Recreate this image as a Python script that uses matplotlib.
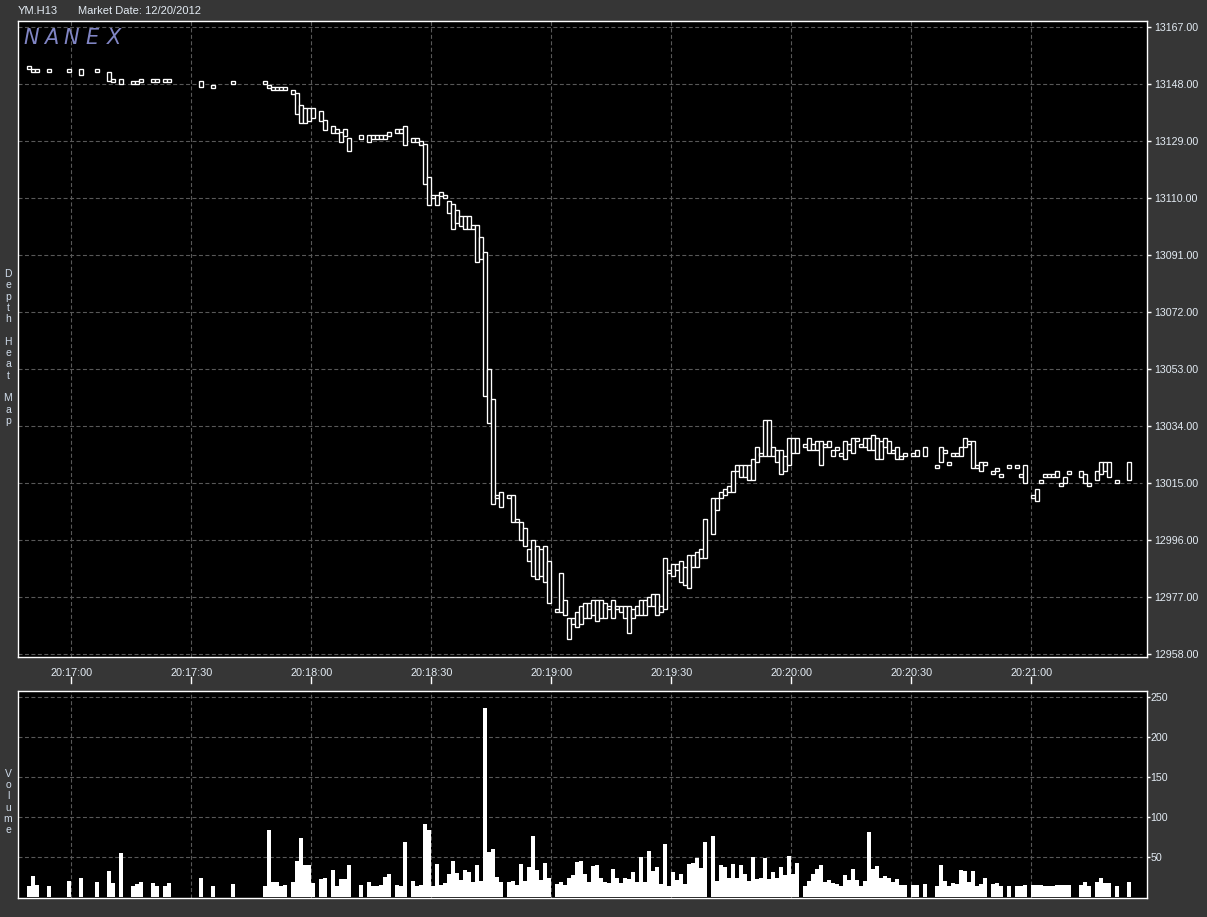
import matplotlib
matplotlib.use("Agg")
import matplotlib.pyplot as plt
from matplotlib.lines import Line2D
from matplotlib.transforms import blended_transform_factory

# ---------------- data (seconds after 20:17:00) ----------------
seconds = [-11, -10, -9, -6, -1, 2, 6, 9, 10, 12, 15, 16, 17, 20, 21, 23, 24, 32, 35, 40,
           48, 49, 50, 51, 52, 53, 55, 56, 57, 58, 59, 60, 62, 63, 65, 66, 67, 68, 69, 72,
           74, 75, 76, 77, 78, 79, 81, 82, 83, 85, 86, 87, 88, 89, 90, 91, 92, 93, 94, 95,
           96, 97, 98, 99, 100, 101, 102, 103, 104, 105, 106, 107, 109, 110, 111, 112, 113, 114, 115, 116,
           117, 118, 119, 121, 122, 123, 124, 125, 126, 127, 128, 129, 130, 131, 132, 133, 134, 135, 136, 137,
           138, 139, 140, 141, 142, 143, 144, 145, 146, 147, 148, 149, 150, 151, 152, 153, 154, 155, 156, 157,
           158, 160, 161, 162, 163, 164, 165, 166, 167, 168, 169, 170, 171, 172, 173, 174, 175, 176, 177, 178,
           179, 180, 181, 183, 184, 185, 186, 187, 188, 189, 190, 191, 192, 193, 194, 195, 196, 197, 198, 199,
           200, 201, 202, 203, 204, 205, 206, 207, 208, 210, 211, 213, 216, 217, 218, 219, 220, 221, 222, 223,
           224, 225, 226, 227, 228, 230, 231, 232, 234, 236, 237, 238, 240, 241, 242, 243, 244, 245, 246, 247,
           248, 249, 252, 253, 254, 256, 257, 258, 259, 261, 264]

body_top = [13154, 13153, 13153, 13153, 13153, 13153, 13153, 13152, 13149.5, 13149.5, 13149, 13149, 13149.5, 13149.5, 13149.5, 13149.5, 13149.5, 13149, 13147.5, 13149,
            13149, 13147.5, 13147, 13147, 13147, 13147, 13146, 13145, 13141, 13140, 13140, 13140, 13139, 13136, 13134, 13133, 13132, 13133, 13130, 13131,
            13131, 13131, 13131, 13131, 13131, 13132, 13133, 13133, 13134, 13130, 13130, 13129, 13128, 13117, 13111, 13111, 13112, 13111, 13109, 13108,
            13106, 13104, 13104, 13104, 13101, 13101, 13097, 13092, 13053, 13043, 13011, 13012, 13011, 13011, 13003, 13002, 13000, 12993, 12996, 12994,
            12993, 12994, 12989, 12973, 12985, 12976, 12970, 12970, 12972, 12974, 12975, 12975, 12976, 12976, 12976, 12975, 12974, 12976, 12974, 12974,
            12974, 12974, 12973, 12974, 12976, 12976, 12977, 12978, 12978, 12974, 12990, 12986, 12988, 12988, 12989, 12987, 12991, 12991, 12992, 12993,
            13003, 13010, 13010, 13012, 13013, 13014, 13019, 13021, 13021, 13021, 13021, 13023, 13027, 13025, 13036, 13036, 13027, 13026, 13026, 13024,
            13030, 13030, 13030, 13028, 13030, 13028, 13029, 13029, 13028, 13029, 13026, 13027, 13025, 13029, 13028, 13030, 13030, 13028, 13030, 13030,
            13031, 13030, 13029, 13030, 13029, 13026, 13027, 13024, 13025, 13025, 13026, 13027, 13021, 13027, 13026, 13022, 13025, 13025, 13027, 13030,
            13029, 13029, 13021, 13022, 13022, 13019, 13020, 13018, 13021, 13021, 13018, 13021, 13011, 13013, 13016, 13018, 13018, 13018, 13019, 13015,
            13017, 13019, 13019, 13018, 13015, 13019, 13022, 13022, 13022, 13016, 13022]

body_bottom = [13153, 13152, 13152, 13152, 13152, 13151, 13152, 13149, 13148.5, 13148, 13148, 13148, 13148.5, 13148.5, 13148.5, 13148.5, 13148.5, 13147, 13146.5, 13148,
               13148, 13146.5, 13146, 13146, 13146, 13146, 13144.5, 13138, 13135, 13135, 13135.5, 13136.5, 13135.5, 13132.5, 13131.5, 13131.5, 13128.5, 13130.5, 13125.5, 13129.5,
               13128.5, 13129.5, 13129.5, 13129.5, 13129.5, 13130.5, 13131.5, 13131.5, 13127.5, 13128.5, 13128.5, 13127.5, 13114.5, 13107.5, 13110, 13107.5, 13110.5, 13110, 13105, 13099.5,
               13101.5, 13100.5, 13099.5, 13099.5, 13099.5, 13088.5, 13089.5, 13044, 13035, 13008, 13010, 13007, 13010, 13002, 13002, 12996, 12994, 12989, 12984, 12983,
               12984, 12982, 12975, 12972, 12972, 12971, 12963, 12968, 12967, 12968, 12970, 12970, 12971, 12969, 12970, 12970, 12973, 12970, 12973, 12972,
               12970, 12965, 12970, 12971, 12971, 12971, 12974, 12974, 12971, 12972, 12973, 12985, 12984, 12986, 12982, 12981, 12980, 12987, 12987, 12990,
               12990, 12998, 13006, 13010, 13011, 13012, 13012, 13019, 13017, 13017, 13016, 13016, 13022, 13024, 13024, 13024, 13024, 13022, 13018, 13019,
               13021, 13025, 13025, 13027, 13026, 13026, 13026, 13021, 13027, 13027, 13024, 13026, 13024, 13023, 13026, 13025, 13029, 13027, 13027, 13026,
               13026, 13023, 13023, 13027, 13025, 13025, 13023, 13023, 13024, 13024, 13024, 13024, 13020, 13022, 13025, 13021, 13024, 13024, 13024, 13027,
               13028, 13020, 13020, 13019, 13021, 13018, 13019, 13017, 13020, 13020, 13017, 13015, 13010, 13009, 13015, 13017, 13017, 13017, 13017, 13014,
               13015, 13018, 13017, 13015, 13014, 13016, 13018, 13019, 13017, 13015, 13016]

volume = [14, 27, 15, 14, 20, 24, 19, 33, 18, 55, 14, 17, 19, 18, 14, 14, 18, 24, 14, 17,
          14, 84, 19, 19, 14, 15, 19, 45, 74, 40, 41, 18, 23, 24, 34, 14, 23, 23, 40, 15,
          19, 14, 14, 15, 25, 29, 15, 14, 69, 20, 14, 15, 92, 84, 14, 42, 15, 18, 29, 45,
          30, 22, 34, 32, 19, 40, 20, 236, 57, 60, 25, 19, 19, 20, 15, 42, 20, 38, 77, 34,
          22, 43, 24, 17, 19, 15, 24, 28, 44, 45, 29, 19, 39, 40, 24, 19, 18, 35, 24, 18,
          24, 23, 32, 19, 50, 19, 58, 33, 38, 17, 67, 14, 32, 22, 29, 17, 42, 43, 49, 37,
          69, 77, 20, 40, 38, 24, 42, 24, 40, 29, 20, 50, 23, 24, 49, 23, 32, 24, 38, 28,
          51, 29, 43, 14, 20, 29, 35, 40, 19, 22, 18, 17, 14, 28, 22, 35, 22, 14, 20, 82,
          35, 39, 24, 27, 24, 19, 23, 15, 15, 15, 15, 17, 14, 40, 20, 14, 18, 17, 34, 33,
          19, 33, 14, 17, 24, 17, 18, 14, 14, 14, 14, 15, 15, 15, 15, 14, 14, 14, 15, 15,
          15, 15, 15, 19, 14, 19, 24, 18, 18, 14, 19]

price_ticks = [12958, 12977, 12996, 13015, 13034, 13053, 13072, 13091, 13110, 13129, 13148, 13167]
volume_ticks = [50, 100, 150, 200, 250]
time_ticks = [0, 30, 60, 90, 120, 150, 180, 210, 240]
time_labels = ["20:17:00", "20:17:30", "20:18:00", "20:18:30", "20:19:00",
               "20:19:30", "20:20:00", "20:20:30", "20:21:00"]

symbol = "YM.H13"
market_date = "Market Date: 12/20/2012"

# ---------------- styling ----------------
W, H, DPI = 1207, 917, 100
BG = "#363636"
TXT = "#e4ecf4"
GRID = "#585858"
FONT = "Liberation Sans"
plt.rcParams["font.family"] = [FONT, "DejaVu Sans"]

fig = plt.figure(figsize=(W / DPI, H / DPI), dpi=DPI, facecolor=BG)


def fx(px):
    return px / W


def fy(py):
    return 1 - py / H


L, R = 18.3, 1147.0
ax = fig.add_axes([fx(L), fy(656.7), fx(R - L), (656.7 - 20.7) / H])
axv = fig.add_axes([fx(L), fy(898.3), fx(R - L), (898.3 - 690.7) / H], sharex=ax)

XMIN, XMAX = -13.3, 268.9
grid_end = (1141.7 - L) / (R - L)
dash = (0, (3.6, 2.2))

for a in (ax, axv):
    a.set_facecolor("black")
    for sp in a.spines.values():
        sp.set_color("white")
        sp.set_linewidth(1.0)
    a.set_xlim(XMIN, XMAX)
    for t in time_ticks:
        a.axvline(t, color=GRID, lw=0.8, ls=dash, zorder=0.5)

# price panel
ax.set_ylim(12957.0, 13169.1)
for p in price_ticks:
    ax.axhline(p, xmin=0, xmax=grid_end, color=GRID, lw=0.8, ls=dash, zorder=0.5)
heights = [t - b for t, b in zip(body_top, body_bottom)]
ax.bar(seconds, heights, bottom=body_bottom, width=1.0, align="edge",
       facecolor="black", edgecolor="white", linewidth=0.95, zorder=2)
ax.yaxis.tick_right()
ax.set_yticks(price_ticks)
ax.set_yticklabels([f"{p:.2f}" for p in price_ticks])
ax.tick_params(axis="y", colors="white", labelcolor=TXT, length=3, width=1, pad=2, labelsize=7.7)
ax.set_xticks(time_ticks)
ax.set_xticklabels(time_labels)
ax.tick_params(axis="x", length=0, pad=8, labelsize=7.8, labelcolor=TXT)

# volume panel
axv.set_ylim(-1.1, 257.5)
for v in volume_ticks:
    axv.axhline(v, xmin=0, xmax=grid_end, color=GRID, lw=0.8, ls=dash, zorder=0.5)
axv.bar(seconds, volume, width=1.0, align="edge", color="white", linewidth=0, zorder=2)
axv.yaxis.tick_right()
axv.set_yticks(volume_ticks)
axv.set_yticklabels([str(v) for v in volume_ticks])
axv.tick_params(axis="y", colors="white", labelcolor=TXT, length=2, width=1, pad=0.5, labelsize=7.7)
axv.tick_params(axis="x", length=0, labelbottom=False)

# small white time marks above the volume panel
tr = blended_transform_factory(axv.transData, fig.transFigure)
for t in time_ticks:
    fig.add_artist(Line2D([t, t], [fy(676.5), fy(682.5)], transform=tr, color="white", lw=1.0))

# header texts
fig.text(fx(18), fy(11), symbol, fontsize=8, color=TXT, va="center", ha="left")
fig.text(fx(78), fy(11), market_date, fontsize=8, color=TXT, va="center", ha="left")

# NANEX logo
for ch, xc in zip("NANEX", [31, 51, 71, 92, 114]):
    fig.text(fx(xc), fy(38.5), ch, fontsize=15, style="italic", color="#8085c4",
             ha="center", va="center", family=["DejaVu Sans"])

# vertical panel labels
for i, ch in enumerate("Depth Heat Map"):
    if ch != " ":
        fig.text(fx(8), fy(274 + i * 11.3), ch, fontsize=7.5, color="#d0dcea",
                 ha="center", va="center")
for i, ch in enumerate("Volume"):
    fig.text(fx(8), fy(774 + i * 11.2), ch, fontsize=7.5, color="#d0dcea",
             ha="center", va="center")

fig.savefig("out.png", dpi=DPI, facecolor=BG)
